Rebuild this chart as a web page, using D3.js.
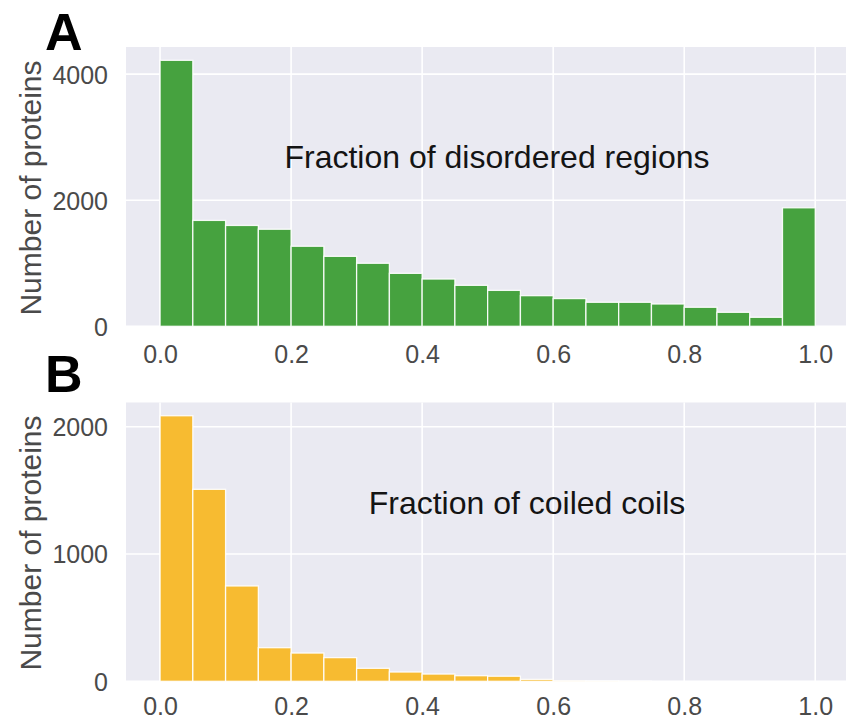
<!DOCTYPE html>
<html><head><meta charset="utf-8">
<script src="https://cdn.jsdelivr.net/npm/d3@7"></script>
<style>body{margin:0;background:#fff}svg{display:block}text{font-family:"Liberation Sans",Arial,sans-serif}</style>
</head><body>
<svg id="c" width="846" height="721"></svg>
<script>
// bin starts (width 0.05)
const binStarts = [0,0.05,0.1,0.15,0.2,0.25,0.3,0.35,0.4,0.45,0.5,0.55,0.6,0.65,0.7,0.75,0.8,0.85,0.9,0.95];
const binWidth = 0.05;
const disordered = [4220,1680,1600,1540,1270,1110,1000,840,750,650,570,486,440,381,381,354,302,222,143,1880];
const coiled = [2086,1508,749,264,222,186,102,73,57,44,40,15,3,2,1,0,0,0,0,0];
const xTicks = [0,0.2,0.4,0.6,0.8,1.0];
const yTicksA = [0,2000,4000];
const yTicksB = [0,1000,2000];

const svg = d3.select("#c");

function panel(cfg){
  const g = svg.append("g");
  const x = d3.scaleLinear().domain([-0.052,1.05]).range([126, 848]);
  const y = d3.scaleLinear().domain([0, cfg.ymax]).range([cfg.bottom, cfg.top]);
  // background
  g.append("rect").attr("x",x(-0.052)).attr("y",y(cfg.ymax))
    .attr("width",x(1.05)-x(-0.052)).attr("height",y(0)-y(cfg.ymax)).attr("fill","#eaeaf2");
  // grid
  g.selectAll(".vg").data(xTicks).join("line")
    .attr("x1",d=>x(d)).attr("x2",d=>x(d)).attr("y1",y(0)).attr("y2",y(cfg.ymax))
    .attr("stroke","#fff").attr("stroke-width",1.6);
  g.selectAll(".hg").data(cfg.yticks).join("line")
    .attr("x1",x(-0.052)).attr("x2",x(1.05)).attr("y1",d=>y(d)).attr("y2",d=>y(d))
    .attr("stroke","#fff").attr("stroke-width",1.6);
  // bars
  g.selectAll(".bar").data(cfg.values.map((v,i)=>({x0:binStarts[i],v})).filter(d=>d.v>0)).join("rect")
    .attr("x",d=>x(d.x0)).attr("width",d=>x(d.x0+binWidth)-x(d.x0))
    .attr("y",d=>y(d.v)).attr("height",d=>y(0)-y(d.v))
    .attr("fill",cfg.color).attr("stroke","#fff").attr("stroke-width",1.3).attr("stroke-opacity",0.9);
  // axes (labels only)
  const xa = d3.axisBottom(x).tickValues(xTicks).tickFormat(d3.format(".1f")).tickSize(0).tickPadding(0);
  const xg = g.append("g").attr("transform",`translate(0,${cfg.bottom})`).call(xa);
  xg.select(".domain").remove();
  xg.selectAll("text").attr("y",cfg.xlabOff).attr("dy",0).attr("font-size",25).attr("fill","#4a4a4a")
    .attr("font-family","'Liberation Sans',Arial,sans-serif");
  const ya = d3.axisLeft(y).tickValues(cfg.yticks).tickFormat(d3.format("d")).tickSize(0).tickPadding(0);
  const yg = g.append("g").attr("transform",`translate(108,0)`).call(ya);
  yg.select(".domain").remove();
  yg.selectAll("text").attr("x",0).attr("dy","0.36em").attr("font-size",25).attr("fill","#4a4a4a")
    .attr("font-family","'Liberation Sans',Arial,sans-serif");
  // y label
  g.append("text").attr("transform",`translate(41,${cfg.ylabelY}) rotate(-90)`)
    .attr("text-anchor","middle").attr("font-size",30).attr("fill","#4a4a4a").text("Number of proteins");
  // title inside
  g.append("text").attr("x",cfg.titleX).attr("y",cfg.titleY).attr("text-anchor","middle")
    .attr("font-size",32).attr("fill","#141414").text(cfg.title);
  // panel letter
  g.append("text").attr("x",cfg.letterX).attr("y",cfg.letterY).attr("font-size",52).attr("font-weight","bold")
    .attr("fill","#000").text(cfg.letter);
}

panel({values:disordered,color:"#46a23f",ymax:4431,top:47,bottom:326.3,yticks:yTicksA,xlabOff:37,
  ylabelY:188,title:"Fraction of disordered regions",titleX:497,titleY:168,letter:"A",letterX:45,letterY:50});
panel({values:coiled,color:"#f7bb31",ymax:2190,top:402.5,bottom:681.3,yticks:yTicksB,xlabOff:34,
  ylabelY:543,title:"Fraction of coiled coils",titleX:527,titleY:514,letter:"B",letterX:45,letterY:392});
</script>
</body></html>
